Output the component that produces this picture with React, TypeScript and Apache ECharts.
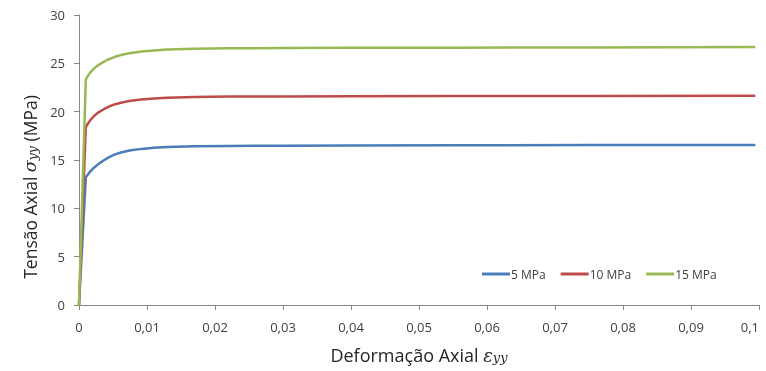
import React, { useEffect, useRef } from "react";
import * as echarts from "echarts";

const strain = [0, 0.001, 0.0013, 0.0017, 0.0022, 0.0028, 0.0035, 0.0043, 0.0052, 0.0063, 0.0076, 0.0092, 0.011, 0.013, 0.017, 0.022, 0.03, 0.04, 0.055, 0.075, 0.0993];
const stress5 = [0, 13.2, 13.5, 13.85, 14.2, 14.55, 14.9, 15.25, 15.55, 15.8, 16.0, 16.15, 16.27, 16.35, 16.43, 16.46, 16.48, 16.5, 16.52, 16.54, 16.55];
const stress10 = [0, 18.4, 18.75, 19.15, 19.55, 19.9, 20.2, 20.5, 20.75, 20.95, 21.12, 21.27, 21.37, 21.44, 21.52, 21.56, 21.58, 21.6, 21.61, 21.63, 21.65];
const stress15 = [0, 23.3, 23.7, 24.1, 24.45, 24.8, 25.1, 25.4, 25.65, 25.88, 26.07, 26.22, 26.33, 26.42, 26.5, 26.55, 26.58, 26.6, 26.62, 26.65, 26.68];
const seriesNames = ["5 MPa", "10 MPa", "15 MPa"];
const colors = ["#4a7ebb", "#be4b48", "#98b954"];

const FONT = "'Open Sans', 'Liberation Sans', sans-serif";
const MATH = "'DejaVu Serif', serif";

const makeRich = (size: number) => ({
  a: { fontFamily: FONT, fontSize: size, fill: "#262626", color: "#262626", verticalAlign: "bottom", lineHeight: size + 8 },
  e: { fontFamily: MATH, fontStyle: "italic", fontSize: size, fill: "#262626", color: "#262626", verticalAlign: "bottom", lineHeight: size + 8 },
  s: { fontFamily: MATH, fontStyle: "italic", fontSize: size - 5, fill: "#262626", color: "#262626", verticalAlign: "bottom", lineHeight: size + 2 },
});

export default function App() {
  const ref = useRef<HTMLDivElement>(null);
  useEffect(() => {
    if (!ref.current) return;
    const chart = echarts.init(ref.current, undefined, { renderer: "svg" });
    const all = [stress5, stress10, stress15];
    chart.setOption({
      animation: false,
      grid: { left: 79, right: 7, top: 15, bottom: 66, containLabel: false, outerBoundsMode: "none" },
      legend: {
        data: seriesNames,
        left: 477,
        top: 263,
        icon: "rect",
        itemWidth: 28,
        itemHeight: 3,
        itemGap: 15,
        textStyle: { fontFamily: FONT, fontSize: 12, color: "#404040", padding: [0, 0, 0, -4] },
      },
      graphic: [
        {
          type: "text",
          x: 26,
          y: 187,
          rotation: Math.PI / 2,
          style: {
            text: "{a|Tensão Axial }{e|σ}{s|yy}{a| (MPa)}",
            rich: makeRich(17.5),
            align: "center",
            verticalAlign: "middle",
          },
        },
      ],
      xAxis: {
        type: "value",
        min: 0,
        max: 0.1,
        interval: 0.01,
        name: "{a|Deformação Axial }{e|ε}{s|yy}",
        nameLocation: "middle",
        nameGap: 33,
        nameTextStyle: { rich: makeRich(18) },
        axisLine: { show: true, lineStyle: { color: "#868686", width: 1 } },
        axisTick: { show: true, inside: false, length: 5, lineStyle: { color: "#868686" } },
        splitLine: { show: false },
        axisLabel: {
          fontFamily: FONT,
          fontSize: 13,
          color: "#404040",
          margin: 15,
          alignMaxLabel: "right",
          formatter: (v: number) => (v === 0 ? "0" : String(Number(v.toFixed(2))).replace(".", ",")),
        },
      },
      yAxis: {
        type: "value",
        min: 0,
        max: 30,
        interval: 5,
        axisLine: { show: true, lineStyle: { color: "#868686", width: 1 } },
        axisTick: { show: true, inside: false, length: 5, lineStyle: { color: "#868686" } },
        splitLine: { show: false },
        axisLabel: { fontFamily: FONT, fontSize: 13, color: "#404040", margin: 14 },
      },
      series: seriesNames.map((name, i) => ({
        name,
        type: "line",
        showSymbol: false,
        smooth: false,
        data: strain.map((x, j) => [x, all[i][j]]),
        lineStyle: { color: colors[i], width: 2.5, join: "round", cap: "round" },
        itemStyle: { color: colors[i] },
      })),
    });
    return () => chart.dispose();
  }, []);
  return <div ref={ref} style={{ width: 766, height: 371, position: "fixed", left: 0, top: 0 }} />;
}
